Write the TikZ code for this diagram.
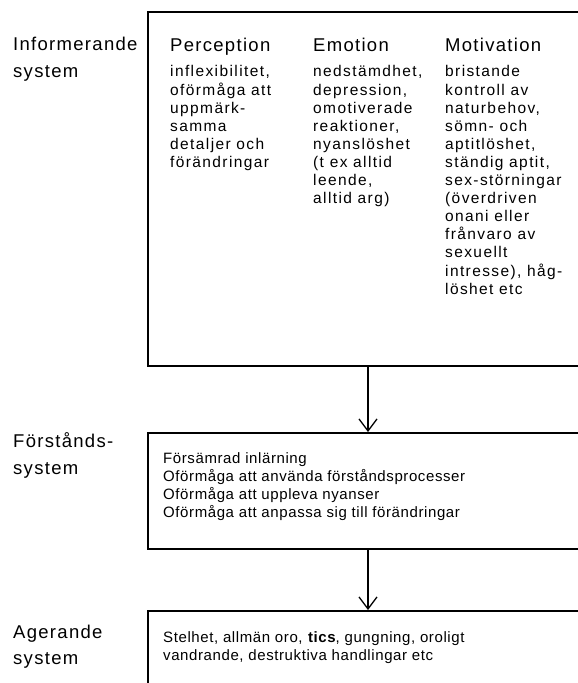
\documentclass[tikz,border=0pt]{standalone}
\usepackage{fontspec}
\setmainfont{Liberation Sans}
\newfontfamily\sysfont[LetterSpace=7]{Liberation Sans}
\newfontfamily\colfont[LetterSpace=9]{Liberation Sans}
\newfontfamily\txtfont[LetterSpace=4]{Liberation Sans}
\usetikzlibrary{positioning,arrows.meta}

\begin{document}
\begin{tikzpicture}[
  x=1pt, y=-1pt,
  sysbox/.style={draw, line width=1.6pt, minimum width=440pt, inner sep=0pt, anchor=north},
  side/.style={font=\fontsize{18.5}{26.5}\sysfont, align=left, anchor=north west, inner sep=0pt},
  head/.style={font=\fontsize{18.5}{22}\sysfont, anchor=base west, inner sep=0pt},
  body/.style={font=\fontsize{15.5}{18.1}\colfont, align=left, anchor=north west, inner sep=0pt},
  list/.style={font=\fontsize{15}{18}\txtfont, align=left, anchor=north west, inner sep=0pt},
  flow/.style={-{Straight Barb[length=12pt,width=18pt]}, line width=1.3pt},
]
\useasboundingbox (0,0) rectangle (578,683);

% geometry
\def\mid{368}      % centre line of the boxes
\def\lx{13}        % left labels
\def\tx{163}       % text in lower boxes

% ============ informerande system ============
\node[sysbox, minimum height=354pt] (inf) at (\mid,11) {};
\node[side] (infl) at (\lx,37) {Informerande\\system};
\node[head] (perh) at (170,51) {Perception};
\node[body] (perb) at (170,65.5)
  {inflexibilitet,\\oförmåga att\\uppmärk-\\samma\\detaljer och\\förändringar};
\node[head] (emoh) at (313,51) {Emotion};
\node[body] (emob) at (313,65.5)
  {nedstämdhet,\\depression,\\omotiverade\\reaktioner,\\nyanslöshet\\(t ex alltid\\leende,\\alltid arg)};
\node[head] (moth) at (445,51) {Motivation};
\node[body] (motb) at (445,65.5)
  {bristande\\kontroll av\\naturbehov,\\sömn- och\\aptitlöshet,\\ständig aptit,\\sex-störningar\\(överdriven\\onani eller\\frånvaro av\\sexuellt\\intresse), håg-\\löshet etc};

% ============ förståndssystem ============
\node[sysbox, minimum height=116pt] (fst) at (\mid,432) {};
\node[side] (fstl) at (\lx,432.5) {Förstånds-\\system};
\node[list] (fstb) at (\tx,452)
  {Försämrad inlärning\\Oförmåga att använda förståndsprocesser\\Oförmåga att uppleva nyanser\\Oförmåga att anpassa sig till förändringar};

% ============ agerande system ============
\node[sysbox, minimum height=80pt] (age) at (\mid,610) {};
\node[side] (agel) at (\lx,624.5) {Agerande\\system};
\node[list] (ageb) at (\tx,631)
  {Stelhet, allmän oro, \textbf{tics}, gungning, oroligt\\vandrande, destruktiva handlingar etc};

% arrows
\draw[flow] (inf.south) -- (fst.north);
\draw[flow] (fst.south) -- (age.north);

\end{tikzpicture}
\end{document}
